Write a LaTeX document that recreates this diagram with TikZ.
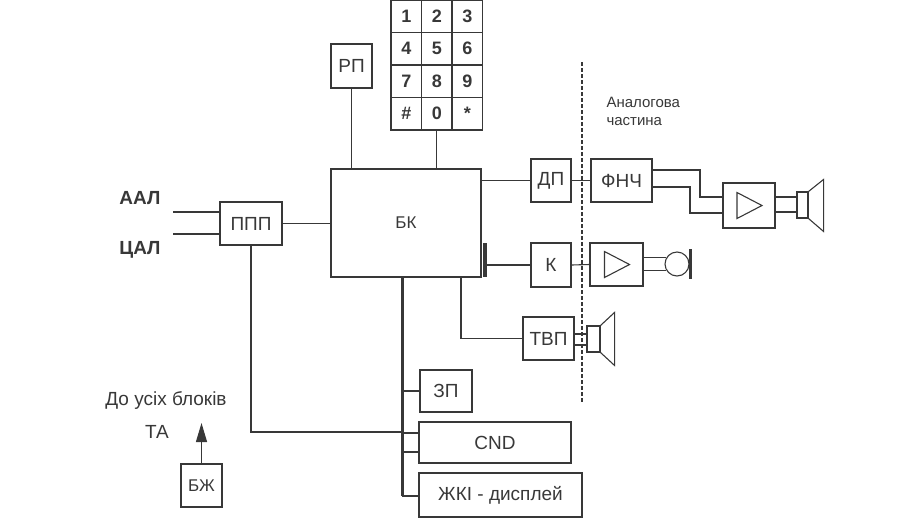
\documentclass[tikz,border=0pt]{standalone}
\usepackage{fontspec}
\setmainfont{Liberation Sans}
\usepackage{xcolor}
\usetikzlibrary{positioning,calc,arrows.meta}

\definecolor{ink}{gray}{0.22}

\tikzset{
    blk/.style={draw, inner sep=0pt, minimum height=43, font=\fontsize{19}{22}\selectfont},
    key/.style={draw, inner sep=0pt, minimum width=30.5, minimum height=32.5, font=\bfseries\fontsize{18}{20}\selectfont},
    bus/.style={line width=3pt},
    tube/.style={line width=1.3pt},
    bar/.style={line width=3.5pt},
    lbl/.style={inner sep=0pt, font=\fontsize{19}{22}\selectfont},
}

\begin{document}
\begin{tikzpicture}[x=1pt, y=-1pt, color=ink, line width=1.1pt]
    \useasboundingbox (0,0) rectangle (907,531);

    % keypad
    \foreach \keys [count=\r] in {{1,2,3},{4,5,6},{7,8,9},{\#,0,*}}
        \foreach \d [count=\c] in \keys
            \node[key] (k\r\c) at ({375.75+30.5*\c},{32.5*\r-16.25}) {\d};

    % blocks
    \node[blk, minimum width=41, minimum height=44] (rp) at (351.5,66) {РП};
    \node[blk, minimum width=150, minimum height=108, font=\fontsize{17}{20}\selectfont] (bk) at (406,223) {БК};
    \node[blk, minimum width=62] (ppp) at (251,223.5) {ППП};
    \node[blk, minimum width=40] (dp) at (551,180.5) {ДП};
    \node[blk, minimum width=61] (fnch) at (621.5,180.5) {ФНЧ};
    \node[blk, minimum width=52, minimum height=45] (amp1) at (749,205.5) {};
    \node[blk, minimum width=40, minimum height=44] (k) at (551,265) {К};
    \node[blk, minimum width=53] (amp2) at (616.5,264.5) {};
    \node[blk, minimum width=51] (tvp) at (548.5,338.5) {ТВП};
    \node[blk, minimum width=52, minimum height=42] (zp) at (446,391) {ЗП};
    \node[blk, minimum width=152, minimum height=41] (cnd) at (495,442.5) {CND};
    \node[blk, minimum width=163, minimum height=44] (lcd) at (500.5,495) {ЖКІ - дисплей};
    \node[blk, minimum width=41, font=\fontsize{17}{20}\selectfont] (bzh) at (201.5,485.5) {БЖ};

    % speakers and microphone
    \node[draw, inner sep=0pt, minimum width=11, minimum height=26] (spk1) at (802.5,205) {};
    \draw (spk1.north east) -- ++(15,-12) -- ++(0,52) -- (spk1.south east);
    \node[draw, inner sep=0pt, minimum width=13, minimum height=26] (spk2) at (593.5,339) {};
    \draw (spk2.north east) -- ++(14,-13) -- ++(0,53) -- (spk2.south east);
    \node[draw, circle, inner sep=0pt, minimum size=24] (mic) at (677,264) {};
    \draw[bar] ($(mic.east)+(1,-15)$) -- ($(mic.east)+(1,15)$);

    % amplifier triangles
    \foreach \a in {amp1,amp2}
        \draw ($(\a.center)+(-12,-13)$) -- ($(\a.center)+(13,0)$) -- ($(\a.center)+(-12,13)$) -- cycle;

    % labels
    \node[lbl, font=\bfseries\fontsize{19}{22}\selectfont] (aal) at (140,198) {ААЛ};
    \node[lbl, font=\bfseries\fontsize{19}{22}\selectfont] (cal) at (140,250) {ЦАЛ};
    \node[lbl] (all) at (166,400) {До усіх блоків};
    \node[lbl] (ta) at (157,432) {ТА};
    \node[lbl, anchor=west, align=left, font=\fontsize{15}{18}\selectfont] (analog) at (606,111) {Аналогова\\частина};

    % free ends and bends
    \coordinate (aalin) at (173,212);
    \coordinate (calin) at (173,234);
    \coordinate (busend) at (402,496);
    \coordinate (tvptap) at (461,277);
    \coordinate (kbar) at (485,265);
    \coordinate (bzhto) at (201.5,423);
    \coordinate (up1) at (700,197);
    \coordinate (lo1) at (690,213);

    % connectors
    \draw (aalin) -- (aalin -| ppp.west);
    \draw (calin) -- (calin -| ppp.west);
    \draw (ppp.east) -- (ppp.east -| bk.west);
    \draw (rp.south) -- (rp.south |- bk.north);
    \draw (k42.south) -- (k42.south |- bk.north);
    \draw[bus] (bk.south -| busend) -- (busend);
    \draw (ppp.south) |- (busend |- 0,432);
    \draw (busend |- zp.west) -- (zp.west);
    \draw (busend |- 0,433) -- (cnd.west |- 0,433);
    \draw (busend |- 0,452) -- (cnd.west |- 0,452);
    \draw (busend) -- (lcd.west |- busend);
    \draw[-{Triangle[length=19pt,width=11pt]}] (bzh.north) -- (bzhto);

    \draw (bk.east |- dp.west) -- (dp.west);
    \draw (dp.east) -- (fnch.west);
    \draw[tube] (fnch.east |- 0,170) -| (up1) -- (amp1.west |- up1);
    \draw[tube] (fnch.east |- 0,187) -| (lo1) -- (amp1.west |- lo1);
    \draw[tube] (amp1.east |- 0,197) -- (spk1.west |- 0,197);
    \draw[tube] (amp1.east |- 0,212) -- (spk1.west |- 0,212);

    \draw[bar] ($(kbar)+(0,-22)$) -- ($(kbar)+(0,12)$);
    \draw (kbar) -- (k.west);
    \draw (k.east) -- (amp2.west);
    \draw[tube] (amp2.east |- mic.150) -- (mic.150);
    \draw[tube] (amp2.east |- mic.210) -- (mic.210);

    \draw (tvptap) |- (tvp.west);
    \draw[tube] (tvp.east |- 0,334) -- (spk2.west |- 0,334);
    \draw[tube] (tvp.east |- 0,345) -- (spk2.west |- 0,345);

    % analog part boundary
    \draw[dash pattern=on 4pt off 2pt, line width=1.4pt] (582,62) -- (582,402);
\end{tikzpicture}
\end{document}
